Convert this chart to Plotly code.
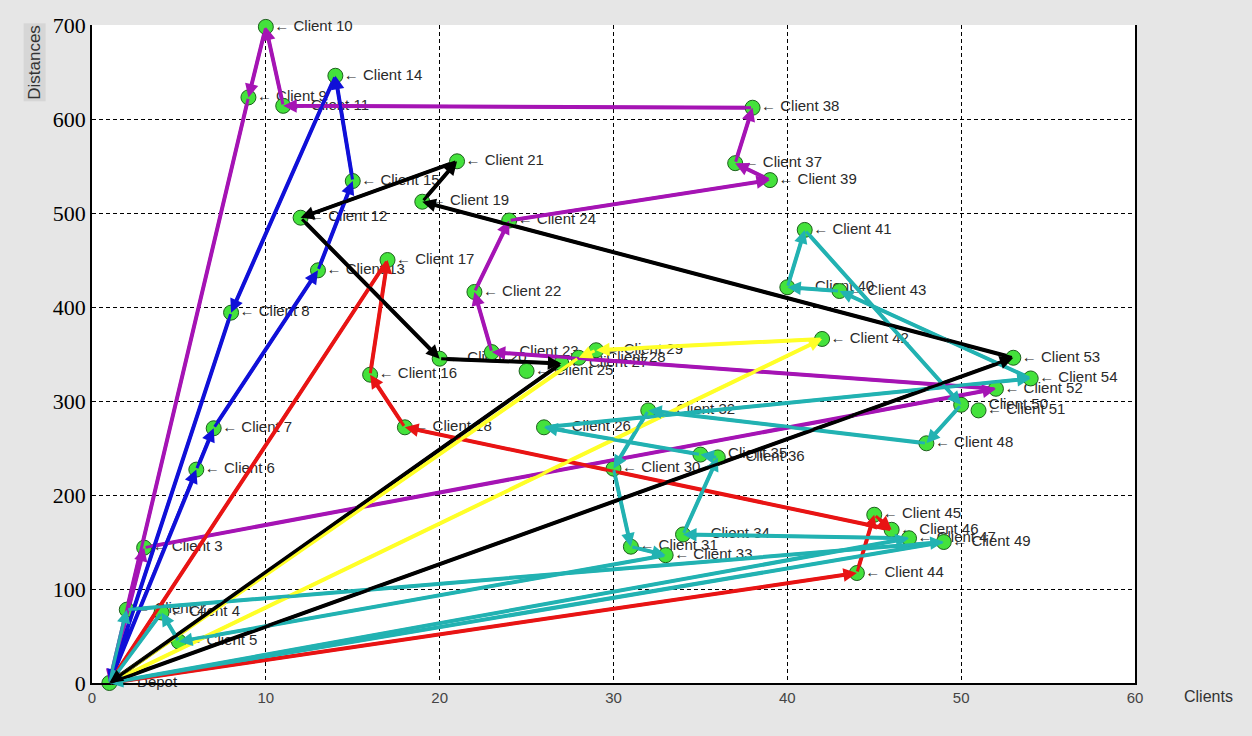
import plotly.graph_objects as go

# ---------------- data ----------------
client_ids = [1, 2, 3, 4, 5, 6, 7, 8, 9, 10, 11, 12, 13, 14, 15, 16, 17, 18, 19, 20,
              21, 22, 23, 24, 25, 26, 27, 28, 29, 30, 31, 32, 33, 34, 35, 36, 37, 38, 39, 40,
              41, 42, 43, 44, 45, 46, 47, 48, 49, 50, 51, 52, 53, 54]
client_names = ["Depot", "Client 2", "Client 3", "Client 4", "Client 5", "Client 6", "Client 7",
                "Client 8", "Client 9", "Client 10", "Client 11", "Client 12", "Client 13",
                "Client 14", "Client 15", "Client 16", "Client 17", "Client 18", "Client 19",
                "Client 20", "Client 21", "Client 22", "Client 23", "Client 24", "Client 25",
                "Client 26", "Client 27", "Client 28", "Client 29", "Client 30", "Client 31",
                "Client 32", "Client 33", "Client 34", "Client 35", "Client 36", "Client 37",
                "Client 38", "Client 39", "Client 40", "Client 41", "Client 42", "Client 43",
                "Client 44", "Client 45", "Client 46", "Client 47", "Client 48", "Client 49",
                "Client 50", "Client 51", "Client 52", "Client 53", "Client 54"]
client_x = [1, 2, 3, 4, 5, 6, 7, 8, 9, 10, 11, 12, 13, 14, 15, 16, 17, 18, 19, 20,
            21, 22, 23, 24, 25, 26, 27, 28, 29, 30, 31, 32, 33, 34, 35, 36, 37, 38, 39, 40,
            41, 42, 43, 44, 45, 46, 47, 48, 49, 50, 51, 52, 53, 54]
client_y = [0, 78, 144, 75, 44, 227, 271, 394, 623, 698, 614, 495, 439, 646, 534, 328, 450, 272, 512, 345,
            555, 416, 352, 492, 332, 272, 340, 346, 354, 228, 145, 290, 136, 158, 243, 240, 553, 612, 535, 421,
            482, 366, 417, 117, 179, 163, 154, 255, 150, 296, 290, 313, 346, 324]

route_magenta = [1, 3, 52, 23, 22, 24, 39, 37, 38, 11, 10, 9, 1]
route_blue = [1, 6, 7, 13, 15, 14, 8, 1]
route_black = [1, 53, 19, 21, 12, 20, 27, 1]
route_yellow = [1, 42, 29, 28, 1]
route_red = [1, 44, 45, 46, 18, 16, 17, 1]
route_cyan_a = [1, 2, 49, 1]
route_cyan_b = [1, 47, 34, 36, 35, 26, 54, 43, 40, 41, 50, 48, 32, 30, 31, 33, 5, 4, 1]

x_ticks = [0, 10, 20, 30, 40, 50, 60]
y_ticks = [0, 100, 200, 300, 400, 500, 600, 700]

# ---------------- figure ----------------
pos = {cid: (cx, cy) for cid, cx, cy in zip(client_ids, client_x, client_y)}

routes = [
    (route_magenta, "#A514B4"),
    (route_blue, "#1010D8"),
    (route_red, "#E81414"),
    (route_yellow, "#FFFF28"),
    (route_cyan_a, "#22B2B2"),
    (route_cyan_b, "#22B2B2"),
    (route_black, "#000000"),
]

fig = go.Figure()

# labels first (lines may pass over them)
fig.add_trace(go.Scatter(
    x=client_x, y=client_y, mode="markers+text",
    text=["\u2190 " + n for n in client_names],
    textposition="middle right",
    textfont=dict(family="Arial", size=15, color="#2a2a2a"),
    marker=dict(size=12, color="rgba(0,0,0,0)"),
    hoverinfo="skip", cliponaxis=False,
))

annotations = []
for route, color in routes:
    xs = [pos[c][0] for c in route]
    ys = [pos[c][1] for c in route]
    fig.add_trace(go.Scatter(x=xs, y=ys, mode="lines",
                             line=dict(color=color, width=4), hoverinfo="skip"))
    for a, b in zip(route[:-1], route[1:]):
        annotations.append(dict(
            x=pos[b][0], y=pos[b][1], ax=pos[a][0], ay=pos[a][1],
            xref="x", yref="y", axref="x", ayref="y",
            showarrow=True, arrowhead=2, arrowsize=0.9, arrowwidth=3,
            arrowcolor=color, text=""))

fig.add_trace(go.Scatter(
    x=client_x, y=client_y, mode="markers",
    marker=dict(size=15, color="#44E23C", line=dict(color="#1d5f1d", width=1)),
    hoverinfo="skip", cliponaxis=False,
))

annotations.append(dict(text="Distances", xref="paper", yref="paper",
                        x=-0.0547, y=0.944, xanchor="center", yanchor="middle",
                        showarrow=False, textangle=-90,
                        font=dict(family="Arial", size=17, color="#333"),
                        bgcolor="#D6D6D6"))
annotations.append(dict(text="Clients", xref="paper", yref="paper",
                        x=1.070, y=-0.021, xanchor="center", yanchor="middle",
                        showarrow=False,
                        font=dict(family="Arial", size=16, color="#333")))

fig.update_layout(
    width=1252, height=736,
    margin=dict(l=92, r=117, t=25, b=53),
    paper_bgcolor="#E6E6E6", plot_bgcolor="white",
    showlegend=False,
    annotations=annotations,
    xaxis=dict(range=[0, 60], tickvals=x_ticks, showgrid=True, gridcolor="black",
               griddash="4px,3px", gridwidth=1, zeroline=False, showline=True,
               linecolor="black", linewidth=1.5, mirror=False, ticks="",
               tickfont=dict(family="Arial", size=15, color="#444")),
    yaxis=dict(range=[0, 700], tickvals=y_ticks, showgrid=True, gridcolor="black",
               griddash="4px,3px", gridwidth=1, zeroline=False, showline=True,
               linecolor="black", linewidth=1.5, mirror=True, ticks="",
               tickfont=dict(family="Liberation Serif", size=22, color="black")),
)

fig.write_html("out.html", config={"displayModeBar": False},
               post_script="document.body.style.margin='0';")
